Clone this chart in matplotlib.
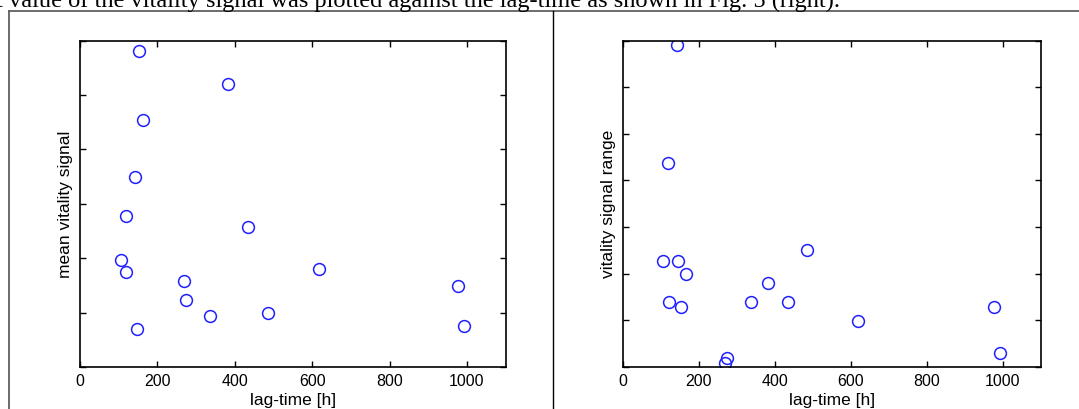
import matplotlib
matplotlib.use("Agg")
import matplotlib.pyplot as plt
from matplotlib.lines import Line2D

# lag-time [h] and mean vitality signal (left panel)
lag_mean = [106, 119, 119, 142, 147, 152, 163, 268, 273, 335, 382, 433, 486, 618, 977, 993]
mean_signal = [1.97, 2.78, 1.74, 3.49, 0.69, 5.81, 4.54, 1.58, 1.24, 0.94, 5.20, 2.58, 0.99, 1.81, 1.49, 0.76]

# lag-time [h] and vitality signal range (right panel)
lag_range = [106, 119, 120, 142, 146, 152, 165, 269, 274, 336, 383, 434, 486, 618, 978, 994]
signal_range = [2.28, 4.38, 1.38, 6.90, 2.28, 1.28, 1.98, 0.09, 0.19, 1.38, 1.79, 1.38, 2.50, 0.99, 1.28, 0.29]

x_ticks = [0, 200, 400, 600, 800, 1000]
caption = "t value of the vitality signal was plotted against the lag-time as shown in Fig. 5 (right)."

W, H = 1079, 409
fig = plt.figure(figsize=(W / 100, H / 100), dpi=100)
plt.rcParams['font.family'] = ['Liberation Sans', 'DejaVu Sans']


def px_rect(x0, x1, y_top, y_bot):
    return [x0 / W, 1 - y_bot / H, (x1 - x0) / W, (y_bot - y_top) / H]


def style_axes(ax, n_yticks, ylabel):
    ax.set_xlim(0, 1100)
    ax.set_ylim(0, n_yticks)
    ax.set_xticks(x_ticks)
    ax.set_yticks(range(n_yticks + 1))
    ax.set_yticklabels([])
    ax.tick_params(direction='in', top=True, right=True, length=4, width=1,
                   labelsize=11.5, pad=5)
    for s in ax.spines.values():
        s.set_linewidth(1.2)
    ax.set_xlabel('lag-time [h]', fontsize=12.5, labelpad=3)
    ax.set_ylabel(ylabel, fontsize=12.5, labelpad=0)


ax1 = fig.add_axes(px_rect(80, 505.7, 40.7, 367))
ax1.plot(lag_mean, mean_signal, 'o', mfc='none', mec='#2020ff', ms=8.5, mew=1.1)
style_axes(ax1, 6, 'mean vitality signal')

ax2 = fig.add_axes(px_rect(623, 1040.5, 40.7, 366.7))
ax2.plot(lag_range, signal_range, 'o', mfc='none', mec='#2020ff', ms=8.5, mew=1.1)
style_axes(ax2, 7, 'vitality signal range')

# page frame around the two figures
fig.add_artist(Line2D([9 / W, 1], [1 - 11 / H] * 2, color='#606060', lw=1.3))
fig.add_artist(Line2D([9 / W] * 2, [0, 1 - 11 / H], color='#606060', lw=1.3))
fig.add_artist(Line2D([553 / W] * 2, [0, 1 - 11 / H], color='black', lw=1.0))

fig.text(-4 / W, 1 - 7.5 / H, caption, family='Liberation Serif', fontsize=17.6,
         va='baseline', ha='left')

fig.savefig('out.png', dpi=100)
